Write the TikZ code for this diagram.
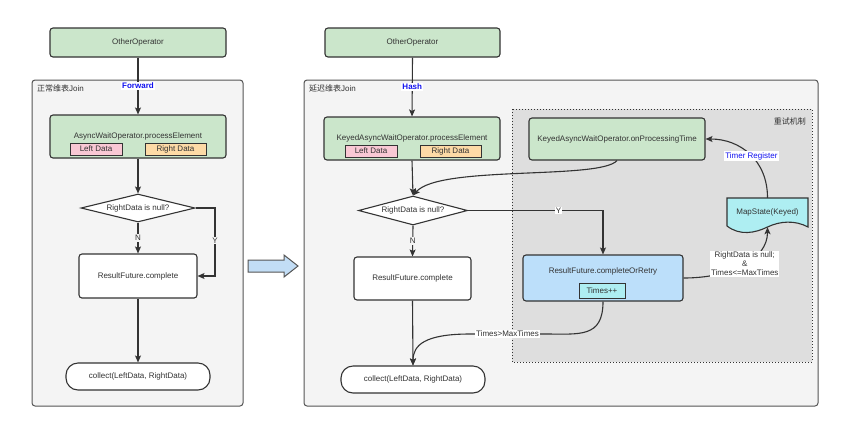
\documentclass[tikz,border=0pt]{standalone}
\usepackage{fontspec}
\setmainfont{Liberation Sans}
\newfontfamily\cjkf{Noto Sans CJK SC}
\usetikzlibrary{shapes.geometric,arrows.meta}
\definecolor{ink}{HTML}{333333}
\definecolor{gfill}{HTML}{CBE6CB}
\definecolor{contfill}{HTML}{F4F4F4}
\definecolor{contdraw}{HTML}{555555}
\definecolor{retryfill}{HTML}{DEDEDE}
\definecolor{bluefill}{HTML}{BCDFFA}
\definecolor{cyanfill}{HTML}{AEEEF2}
\definecolor{pinkfill}{HTML}{F9C8D4}
\definecolor{orangefill}{HTML}{FDDAA6}
\definecolor{arrowfill}{HTML}{C2DDF5}
\definecolor{lblblue}{HTML}{1010F0}
\tikzset{
  box/.style={draw=ink, line width=1.1pt, rounded corners=3pt, text=ink, inner sep=0pt},
  greenbox/.style={box, fill=gfill},
  whitebox/.style={box, fill=white},
  tag/.style={draw=ink, line width=0.9pt, text=ink, inner sep=0pt, minimum height=12pt},
  dec/.style={shape=diamond, aspect=4, draw=ink, line width=1.1pt, fill=white, text=ink, inner sep=0pt},
  term/.style={draw=ink, line width=1.1pt, fill=white, rounded corners=12pt, text=ink, inner sep=0pt},
  conn/.style={draw=ink, line width=1.1pt, -{Stealth[length=7pt,width=6pt,inset=1.5pt]}},
  lblc/.style={fill=contfill, text=ink, inner sep=1pt},
  lblw/.style={fill=white, text=ink, inner sep=1pt},
  lblb/.style={fill=white, text=lblblue, inner sep=1pt},
  cont/.style={draw=contdraw, line width=1pt, fill=contfill, rounded corners=3pt},
  title/.style={text=ink, inner sep=0pt, anchor=west}
}
\begin{document}
\begin{tikzpicture}[x=1pt,y=-1pt,font=\fontsize{8}{10}\selectfont]
\useasboundingbox (0,0) rectangle (845,432);
\fill[white] (0,0) rectangle (845,432);

% ---------- left panel ----------
\draw[cont] (32,80) rectangle (243,406);
\node[title] (t1) at (37,88) {{\cjkf 正常维表}Join};
\node[greenbox, minimum width=176pt, minimum height=29pt] (op1) at (138,42.5) {OtherOperator};
\node[greenbox, minimum width=176pt, minimum height=43pt] (pe1) at (138,136.5) {};
\node[text=ink, inner sep=0pt] (pe1t) at (138,136) {AsyncWaitOperator.processElement};
\node[tag, fill=pinkfill, minimum width=52pt] (ld1) at (96,149) {Left Data};
\node[tag, fill=orangefill, minimum width=61pt] (rd1) at (175.5,149) {Right Data};
\node[dec, minimum width=114pt, minimum height=28pt] (dia1) at (138,208) {RightData is null?};
\node[box, fill=white, minimum width=118pt, minimum height=44pt] (rf1) at (138,276) {ResultFuture.complete};
\node[term, minimum width=144pt, minimum height=27pt] (col1) at (138,376.5) {collect(LeftData, RightData)};

\draw[conn] (op1.south) -- node[lblb, font=\fontsize{8}{10}\selectfont\bfseries]{Forward} (pe1.north);
\draw[conn] (pe1.south) -- (dia1.north);
\draw[conn] (dia1.south) -- node[lblc]{N} (rf1.north);
\draw[conn] (dia1.east) -- (215,208) |- node[pos=0.24, lblc]{Y} (rf1.east);
\draw[conn] (rf1.south) -- (col1.north);

% ---------- block arrow ----------
\draw[draw=contdraw, line width=1pt, fill=arrowfill]
  (248,260) -- (284,260) -- (284,255) -- (298,266) -- (284,277) -- (284,272) -- (248,272) -- cycle;

% ---------- right panel ----------
\draw[cont] (304,80) rectangle (818,406);
\node[title] (t2) at (309,88) {{\cjkf 延迟维表}Join};
\draw[draw=ink, line width=1pt, dotted, fill=retryfill] (512,109) rectangle (812,362);
\node[text=ink, inner sep=0pt, anchor=east] (t3) at (806,121) {\cjkf 重试机制};

\node[greenbox, minimum width=175pt, minimum height=29pt] (op2) at (412.5,42.5) {OtherOperator};
\node[greenbox, minimum width=176pt, minimum height=43pt] (pe2) at (412,138.5) {};
\node[text=ink, inner sep=0pt] (pe2t) at (412,138) {KeyedAsyncWaitOperator.processElement};
\node[tag, fill=pinkfill, minimum width=52pt] (ld2) at (371,151) {Left Data};
\node[tag, fill=orangefill, minimum width=61pt] (rd2) at (450.5,151) {Right Data};
\node[dec, minimum width=109pt, minimum height=29pt] (dia2) at (413,210.5) {RightData is null?};
\node[box, fill=white, minimum width=117pt, minimum height=43pt] (rf2) at (412.5,278.5) {ResultFuture.complete};
\node[term, minimum width=144pt, minimum height=27pt] (col2) at (413,379.5) {collect(LeftData, RightData)};

\node[greenbox, minimum width=176pt, minimum height=42pt] (opt) at (617,139) {KeyedAsyncWaitOperator.onProcessingTime};
\node[box, fill=bluefill, minimum width=160pt, minimum height=46pt] (cr) at (603,278) {};
\node[text=ink, inner sep=0pt] (crt) at (603,271) {ResultFuture.completeOrRetry};
\node[tag, fill=cyanfill, minimum width=46pt, minimum height=15pt] (tp) at (602,290.5) {Times++};

% MapState document shape
\draw[draw=ink, line width=1.1pt, fill=cyanfill]
  (727,198) -- (808,198) -- (808,227)
  .. controls (795,220) and (780,221) .. (767.5,227)
  .. controls (755,233) and (740,236) .. (727,226) -- cycle;
\node[text=ink, inner sep=0pt, minimum width=81pt, minimum height=29pt] (ms) at (767.5,212.5) {MapState(Keyed)};

\draw[conn] (op2.south) -- node[lblb, font=\fontsize{8}{10}\selectfont\bfseries]{Hash} (pe2.north);
\draw[conn] (pe2.south) -- (dia2.north);
\draw[conn] (dia2.south) -- node[lblc]{N} (rf2.north);
\draw[conn] (rf2.south) -- (col2.north);
\draw[conn] (dia2.east) -| node[pos=0.335, lblw]{Y} (cr.north);
\draw[conn] (opt.south) .. controls (600,180) and (440,165) .. (dia2.north);
\draw[conn] (cr.east) .. controls (730,278) and (767.5,260) ..
  node[pos=0.52, lblw, align=center, font=\fontsize{8}{9}\selectfont]{RightData is null;\\\&\\Times<=MaxTimes} (ms.south);
\draw[conn] (ms.north) .. controls (767.5,160) and (740,139) .. node[pos=0.47, lblb]{Timer Register} (opt.east);
\draw[conn] (cr.south) .. controls (603,338) and (580,334) .. (545,334)
  -- node[lblw]{Times>MaxTimes} (470,334)
  .. controls (425,334) and (413,345) .. (col2.north);
\end{tikzpicture}
\end{document}
